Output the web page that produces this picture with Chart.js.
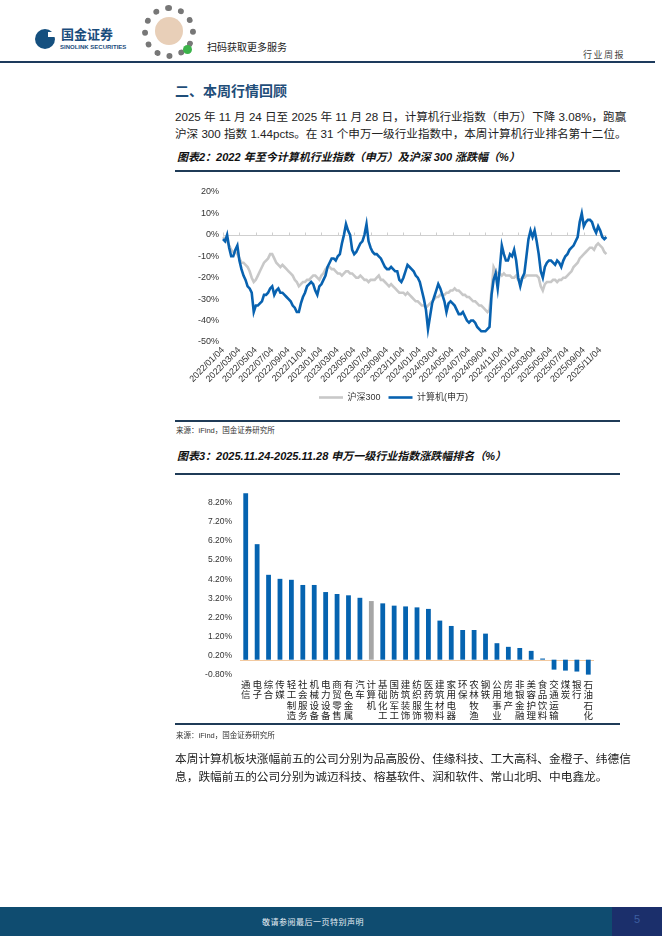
<!DOCTYPE html>
<html lang="zh-CN">
<head>
<meta charset="utf-8">
<script src="https://cdn.jsdelivr.net/npm/chart.js@4.4.1/dist/chart.umd.min.js"></script>
<style>
  body { margin: 0; background: #fff; }
  #page { position: relative; width: 662px; height: 936px; overflow: hidden;
    font-family: "Liberation Sans", "Noto Sans CJK SC", sans-serif; color: #222; }
  .abs { position: absolute; }
  .rule { position: absolute; left: 175px; width: 445px; height: 1.5px; background: #1f3b57; }
  .para { position: absolute; left: 175px; width: 445px; font-size: 11.6px; line-height: 17px;
    text-align: justify; text-align-last: justify; white-space: nowrap; color: #222; }
  .title { position: absolute; left: 177px; font-size: 11px; font-weight: bold; font-style: italic; color: #111; }
  .source { position: absolute; left: 176px; font-size: 7.5px; color: #333; }
</style>
</head>
<body>
<div id="page">
  <!-- header -->
  <div class="abs" style="left:35px;top:29px;width:20px;height:20px;border-radius:50%;background:#15507f;"></div>
  <div class="abs" style="left:48px;top:32px;width:8px;height:5px;background:#fff;"></div>
  <div class="abs" style="left:61px;top:27px;font-size:13px;line-height:16px;font-weight:bold;color:#1a4c7c;">国金证券</div>
  <div class="abs" style="left:60px;top:44px;font-size:6px;line-height:7px;font-weight:bold;color:#1a4c7c;">SINOLINK SECURITIES</div>
  <div class="abs" style="left:142px;top:5px;width:54px;height:54px;border-radius:50%;border:6px dotted #777;box-sizing:border-box;"></div>
  <div class="abs" style="left:155px;top:17px;width:28px;height:28px;border-radius:50%;background:#e8cfb8;"></div>
  <div class="abs" style="left:183px;top:45px;width:9px;height:9px;border-radius:50%;background:#3bb34a;"></div>
  <div class="abs" style="left:207px;top:39px;font-size:10px;color:#222;">扫码获取更多服务</div>
  <div class="abs" style="left:583px;top:48px;font-size:9px;color:#444;letter-spacing:1.5px;">行业周报</div>
  <div class="abs" style="left:0;top:61px;width:655px;height:1.5px;background:#1d3a5c;"></div>

  <div class="abs" style="left:175px;top:80px;font-size:14px;font-weight:bold;color:#1f4e79;">二、本周行情回顾</div>
  <div class="para" style="top:108px;">2025 年 11 月 24 日至 2025 年 11 月 28 日，计算机行业指数（申万）下降 3.08%，跑赢</div>
  <div class="para" style="top:125px;">沪深 300 指数 1.44pcts。在 31 个申万一级行业指数中，本周计算机行业排名第十二位。</div>

  <div class="title" style="top:148px;">图表2：2022 年至今计算机行业指数（申万）及沪深 300 涨跌幅（%）</div>
  <div class="rule" style="top:170px;"></div>
  <canvas id="lineChart" class="abs" width="437" height="230" style="left:180px;top:182px;"></canvas>
  <div class="rule" style="top:420px;"></div>
  <div class="source" style="top:424px;">来源：iFind，国金证券研究所</div>

  <div class="title" style="top:447px;">图表3：2025.11.24-2025.11.28 申万一级行业指数涨跌幅排名（%）</div>
  <div class="rule" style="top:473px;"></div>
  <canvas id="barChart" class="abs" width="430" height="246" style="left:180px;top:478px;"></canvas>
  <div class="rule" style="top:723px;"></div>
  <div class="source" style="top:729px;">来源：iFind，国金证券研究所</div>

  <div class="para" style="top:750px;font-size:11.7px;">本周计算机板块涨幅前五的公司分别为品高股份、佳缘科技、工大高科、金橙子、纬德信</div>
  <div class="para" style="top:768px;font-size:11.7px;text-align-last:left;">息，跌幅前五的公司分别为诚迈科技、榕基软件、润和软件、常山北明、中电鑫龙。</div>

  <!-- footer -->
  <div class="abs" style="left:0;top:907px;width:662px;height:29px;background:#0f4c70;"></div>
  <div class="abs" style="left:612px;top:907px;width:50px;height:29px;background:#1b2f6b;"></div>
  <div class="abs" style="left:262px;top:916px;font-size:8px;color:#e6eef5;letter-spacing:0.5px;">敬请参阅最后一页特别声明</div>
  <div class="abs" style="left:634px;top:913px;font-size:11px;color:#3d5ea0;">5</div>
</div>

<script>
// ===== Data =====
const TICK_LABELS = [
  "2022/01/04", "2022/03/04", "2022/05/04", "2022/07/04", "2022/09/04", "2022/11/04",
  "2023/01/04", "2023/03/04", "2023/05/04", "2023/07/04", "2023/09/04", "2023/11/04",
  "2024/01/04", "2024/03/04", "2024/05/04", "2024/07/04", "2024/09/04", "2024/11/04",
  "2025/01/04", "2025/03/04", "2025/05/04", "2025/07/04", "2025/09/04", "2025/11/04",
];
const POINTS_PER_TICK = 8; // roughly weekly samples

// 沪深300 cumulative change (%)
const HS300 = [
  -1, -2, -3, -5, -7, -8, -8, -9, -11, -13, -13, -14,
  -15, -17, -20, -22, -21, -19, -17, -15, -13, -12, -11, -9,
  -9, -11, -13, -14, -15, -14, -15, -16, -17, -18, -19, -21,
  -22, -24, -23, -22, -22, -21, -21, -20, -19, -19, -20, -21,
  -19, -18, -16, -15, -15, -16, -16, -17, -18, -18, -19, -18,
  -17, -17, -18, -18, -19, -20, -20, -19, -20, -21, -21, -22,
  -21, -21, -21, -20, -19, -21, -21, -22, -23, -24, -23, -24,
  -25, -26, -27, -27, -27, -28, -27, -28, -29, -30, -31, -31,
  -32, -33, -33, -34, -33, -32, -31, -30, -29, -29, -28, -28,
  -28, -27, -27, -26, -26, -25, -26, -26, -27, -28, -28, -29,
  -29, -30, -31, -31, -32, -33, -33, -34, -35, -36, -35, -26,
  -15, -17, -18, -18, -19, -18, -19, -19, -19, -20, -20, -19,
  -21, -21, -20, -20, -19, -19, -19, -19, -19, -19, -20, -24,
  -26, -23, -22, -22, -22, -21, -21, -22, -21, -21, -20, -20,
  -19, -18, -17, -15, -14, -13, -11, -10, -9, -8, -7, -6,
  -6, -7, -5, -4, -5, -6, -8, -9,
];

// 计算机(申万) cumulative change (%)
const COMPUTER = [
  -2, -3, 0, -6, -10, -10, -7, -5, -12, -16, -19, -21,
  -24, -25, -27, -36, -33, -33, -32, -31, -28, -28, -27, -25,
  -24, -28, -26, -25, -27, -27, -28, -29, -30, -31, -33, -34,
  -36, -36, -32, -29, -27, -24, -23, -22, -23, -26, -28, -24,
  -23, -21, -19, -15, -13, -11, -11, -12, -10, -9, -4, 0,
  5, 2, 0, -7, -9, -8, -6, -4, -3, 0, 5, -3,
  -6, -8, -9, -9, -10, -11, -13, -15, -16, -16, -15, -16,
  -17, -17, -21, -22, -20, -17, -14, -15, -16, -17, -19, -20,
  -22, -26, -30, -35, -44, -38, -32, -29, -26, -23, -25, -28,
  -31, -36, -32, -31, -32, -33, -35, -37, -37, -36, -38, -40,
  -41, -40, -40, -41, -43, -44, -45, -45, -45, -44, -43, -28,
  -21, -18, -25, -16, -5, -9, -12, -12, -9, -10, -7, -12,
  -20, -24, -20, -18, -10, -2, 2, -1, 2, -3, -9, -17,
  -20, -15, -13, -12, -12, -13, -14, -12, -13, -15, -12, -10,
  -9, -7, -6, -5, -3, -1, 6, 10, 4, 6, 7, 7,
  6, 3, 1, 4, 2, -1, -2, -1,
];

const INDUSTRIES = [
  "通信", "电子", "综合", "传媒", "轻工制造", "社会服务", "机械设备", "电力设备",
  "商贸零售", "有色金属", "汽车", "计算机", "基础化工", "国防军工", "建筑装饰", "纺织服饰",
  "医药生物", "建筑材料", "家用电器", "环保", "农林牧渔", "钢铁", "公用事业", "房地产",
  "非银金融", "美容护理", "食品饮料", "交通运输", "煤炭", "银行", "石油石化",
];
const WEEK_CHANGE = [
  8.69, 6.03, 4.43, 4.22, 4.17, 3.9, 3.9, 3.53,
  3.43, 3.36, 3.23, 3.06, 2.94, 2.82, 2.78, 2.73,
  2.65, 2.04, 1.76, 1.55, 1.55, 1.36, 0.86, 0.67,
  0.61, 0.46, 0.06, -0.52, -0.57, -0.62, -0.78,
];
const HIGHLIGHT = "计算机";
const BAR_TICKS = [-0.8, 0.2, 1.2, 2.2, 3.2, 4.2, 5.2, 6.2, 7.2, 8.2];

// ===== Chart.js defaults =====
Chart.defaults.font.family = '"Liberation Sans", "Noto Sans CJK SC", sans-serif';
Chart.defaults.color = "#333";

// zero line (and small axis tick marks) drawn under the data
const zeroLine = {
  id: "zeroLine",
  beforeDatasetsDraw(chart, args, opts) {
    const { ctx, chartArea, scales } = chart;
    const py = Math.round(scales.y.getPixelForValue(0)) + 0.5;
    ctx.save();
    ctx.strokeStyle = opts.color;
    ctx.lineWidth = 1;
    ctx.beginPath();
    ctx.moveTo(chartArea.left, py);
    ctx.lineTo(chartArea.right, py);
    if (opts.tickMarks) {
      scales.x.ticks.forEach((t, i) => {
        if (!t.label) return;
        const px = Math.round(scales.x.getPixelForTick(i)) + 0.5;
        ctx.moveTo(px, py - 3);
        ctx.lineTo(px, py);
      });
    }
    ctx.stroke();
    ctx.restore();
  },
};

// ===== Line chart =====
const xLabels = HS300.map((_, i) =>
  i % POINTS_PER_TICK === 0 ? TICK_LABELS[i / POINTS_PER_TICK] || "" : ""
);

new Chart(document.getElementById("lineChart"), {
  type: "line",
  data: {
    labels: xLabels,
    datasets: [
      { label: "沪深300", data: HS300, borderColor: "#c8c8c8", backgroundColor: "#c8c8c8",
        borderWidth: 2.6, pointRadius: 0, order: 2 },
      { label: "计算机(申万)", data: COMPUTER, borderColor: "#0862b0", backgroundColor: "#0862b0",
        borderWidth: 2.6, pointRadius: 0, order: 1 },
    ],
  },
  options: {
    responsive: false,
    animation: false,
    layout: { padding: { top: 10, right: 10, left: 0, bottom: 0 } },
    plugins: {
      legend: {
        position: "bottom",
        labels: {
          usePointStyle: true,
          pointStyle: "line",
          pointStyleWidth: 24,
          font: { size: 9 },
          color: "#333",
          padding: 8,
          sort: (a, b) => a.datasetIndex - b.datasetIndex,
        },
      },
      tooltip: { enabled: false },
      zeroLine: { color: "#cfcfcf", tickMarks: true },
    },
    scales: {
      x: {
        offset: false,
        grid: { display: false, drawTicks: false },
        border: { display: false },
        afterFit: (s) => { s.height = 43; },
        ticks: { autoSkip: false, maxRotation: 45, minRotation: 45, font: { size: 9 }, color: "#333", padding: 3 },
      },
      y: {
        min: -50,
        max: 20,
        afterFit: (s) => { s.width = 43; },
        grid: { display: false, drawTicks: false },
        border: { display: false },
        ticks: { stepSize: 10, callback: (v) => v + "%", font: { size: 9 }, color: "#333", padding: 4 },
      },
    },
  },
  plugins: [zeroLine],
});

// ===== Bar chart =====
new Chart(document.getElementById("barChart"), {
  type: "bar",
  data: {
    labels: INDUSTRIES.map((s) => s.split("")),
    datasets: [
      {
        data: WEEK_CHANGE,
        backgroundColor: INDUSTRIES.map((n) => (n === HIGHLIGHT ? "#a6a6a6" : "#0563b0")),
        barPercentage: 0.42,
        categoryPercentage: 1,
      },
    ],
  },
  options: {
    responsive: false,
    animation: false,
    layout: { padding: { top: 13, right: 16, left: 0, bottom: 0 } },
    plugins: {
      legend: { display: false },
      tooltip: { enabled: false },
      zeroLine: { color: "#f2c9a0", tickMarks: false },
    },
    scales: {
      x: {
        grid: { display: false, drawTicks: false },
        border: { display: false },
        afterFit: (s) => { s.height = 49; },
        ticks: { autoSkip: false, maxRotation: 0, minRotation: 0, font: { size: 9.5, lineHeight: 1.1 }, color: "#222", padding: 5 },
      },
      y: {
        min: -0.8,
        max: 8.8,
        afterBuildTicks: (s) => { s.ticks = BAR_TICKS.map((v) => ({ value: v })); },
        afterFit: (s) => { s.width = 60; },
        grid: { display: false, drawTicks: false },
        border: { display: false },
        ticks: { callback: (v) => v.toFixed(2) + "%", font: { size: 8.5 }, color: "#333", padding: 8 },
      },
    },
  },
  plugins: [zeroLine],
});
</script>
</body>
</html>
